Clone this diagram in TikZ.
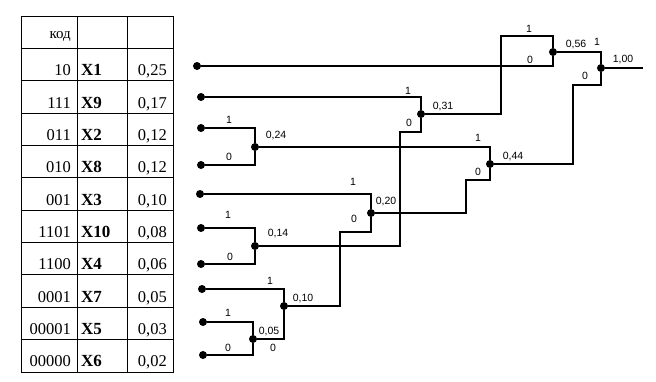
\documentclass[tikz,border=0pt]{standalone}
\usepackage{fontspec}
\setmainfont{Liberation Serif}
\setsansfont{Liberation Sans}

\begin{document}
\begin{tikzpicture}[x=1pt,y=-1pt,wire/.style={line width=2.4pt},dot/.style={circle, fill, inner sep=0pt, minimum size=8pt},bit/.style={font=\sffamily\fontsize{10.5}{11}\selectfont, inner sep=0pt},cell/.style={font=\fontsize{16.5}{18}\selectfont, inner sep=0pt}]
\useasboundingbox (0,0) rectangle (656,381);
% table
\draw[line width=0.9pt] (21,16) rectangle (173,372) (77,16) -- (77,372) (127,16) -- (127,372);
\foreach \i in {1,...,10} \draw[line width=0.9pt] (21,{16+32.36*\i}) -- (173,{16+32.36*\i});
\node[cell, anchor=base east, font=\fontsize{15}{16}\selectfont] (head) at (71,38) {код};
\foreach \c/\s [count=\i] in {10/X1, 111/X9, 011/X2, 010/X8, 001/X3, 1101/X10, 1100/X4, 0001/X7, 00001/X5, 00000/X6}
  {\node[cell, anchor=base east] (c\i) at (71,{16+32.36*(\i+1)-5}) {\c};
   \node[cell, anchor=base west, font=\fontsize{17}{18}\bfseries] (s\i) at (81,{16+32.36*(\i+1)-5}) {\s};}
\foreach \v [count=\i] in {{0,25},{0,17},{0,12},{0,12},{0,10},{0,08},{0,06},{0,05},{0,03},{0,02}}
  \node[cell, anchor=base east] (p\i) at (167,{16+32.36*(\i+1)-5}) {\v};
% leaves
\node[dot] (l1) at (197,66) {}; \node[dot] (l2) at (201,97) {};
\node[dot] (l3) at (201,128) {}; \node[dot] (l4) at (201,165) {};
\node[dot] (l5) at (200,194) {}; \node[dot] (l6) at (201,228) {};
\node[dot] (l7) at (201,264) {}; \node[dot] (l8) at (202,289) {};
\node[dot] (l9) at (203,322) {}; \node[dot] (l10) at (203,355) {};
% junctions
\node[dot] (n024) at (255,147) {}; \node[dot] (n014) at (255,246) {};
\node[dot] (n005) at (253,339) {}; \node[dot] (n010) at (284,306) {};
\node[dot] (n020) at (371,213) {}; \node[dot] (n031) at (421,114) {};
\node[dot] (n044) at (490,164) {}; \node[dot] (n056) at (553,52) {};
\node[dot] (n100) at (601,68) {};
\coordinate (b1) at (400,132); \coordinate (b2) at (501,36); \coordinate (b3) at (573,85);
\coordinate (b4) at (466,180); \coordinate (b5) at (340,232); \coordinate (root) at (643,68);
% wires
\draw[wire] (l3) -| (n024); \draw[wire] (l4) -| (n024);
\draw[wire] (l6) -| (n014); \draw[wire] (l7) -| (n014);
\draw[wire] (l9) -| (n005); \draw[wire] (l10) -| (n005);
\draw[wire] (l8) -| (n010); \draw[wire] (n010) |- (n005);
\draw[wire] (l5) -| (n020); \draw[wire] (n020) |- (b5) |- (n010);
\draw[wire] (l2) -| (n031); \draw[wire] (n031) |- (b1) |- (n014);
\draw[wire] (n024) -| (n044); \draw[wire] (n044) |- (b4) |- (n020);
\draw[wire] (n031) -| (b2) -| (n056); \draw[wire] (l1) -| (n056);
\draw[wire] (n056) -| (n100); \draw[wire] (n100) |- (b3) |- (n044);
\draw[wire] (n100) -- (root);
% labels
\node[bit] (t024a) at (229,120) {1}; \node[bit] (t024b) at (229,157) {0}; \node[bit] (t024) at (276,136) {0,24};
\node[bit] (t014a) at (228,215) {1}; \node[bit] (t014b) at (230,257) {0}; \node[bit] (t014) at (278,233) {0,14};
\node[bit] (t005a) at (228,313) {1}; \node[bit] (t005b) at (228,348) {0}; \node[bit] (t005) at (269,331) {0,05};
\node[bit] (t010a) at (270,281) {1}; \node[bit] (t010b) at (273,348) {0}; \node[bit] (t010) at (303,298) {0,10};
\node[bit] (t020a) at (353,182) {1}; \node[bit] (t020b) at (354,219) {0}; \node[bit] (t020) at (386,202) {0,20};
\node[bit] (t031a) at (408,91) {1}; \node[bit] (t031b) at (409,123) {0}; \node[bit] (t031) at (443,107) {0,31};
\node[bit] (t044a) at (478,138) {1}; \node[bit] (t044b) at (478,172) {0}; \node[bit] (t044) at (513,157) {0,44};
\node[bit] (t056a) at (529,29) {1}; \node[bit] (t056b) at (530,60) {0}; \node[bit] (t056) at (576,45) {0,56};
\node[bit] (t100a) at (597,42) {1}; \node[bit] (t100b) at (585,76) {0}; \node[bit] (t100) at (623,60) {1,00};
\end{tikzpicture}
\end{document}
